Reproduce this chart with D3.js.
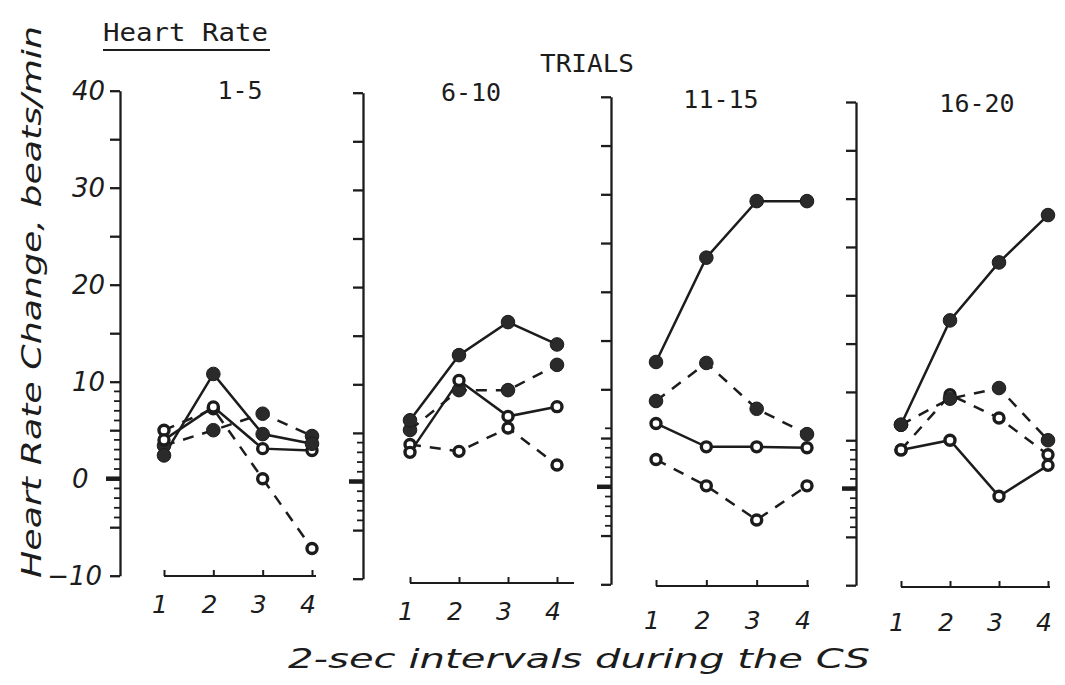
<!DOCTYPE html>
<html>
<head>
<meta charset="utf-8">
<script src="https://cdn.jsdelivr.net/npm/d3@7"></script>
<style>
  html, body { margin: 0; padding: 0; background: #ffffff; }
  svg { display: block; }
</style>
</head>
<body>
<svg id="chart" width="1065" height="685"></svg>
<script>
// ---------------- DATA ----------------
const intervals = [1, 2, 3, 4];
const trialBlocks = ["1-5", "6-10", "11-15", "16-20"];
const yTickLabels = [40, 30, 20, 10, 0, -10];

// one row per trial block, one value per 2-sec interval (beats/min)
const filledSolid  = [[2.4, 10.8, 4.6, 3.6], [6.3, 13.0, 16.4, 14.1], [12.8, 23.5, 29.3, 29.3], [6.6, 17.4, 23.4, 28.3]];
const filledDashed = [[3.4, 5.0, 6.7, 4.4],  [5.3, 9.4, 9.4, 12.0],   [8.8, 12.7, 8.0, 5.4],    [6.6, 9.3, 10.4, 5.0]];
const openSolid    = [[4.0, 7.4, 3.1, 2.9],  [3.0, 10.4, 6.7, 7.7],   [6.5, 4.1, 4.1, 4.0],     [4.0, 5.0, -0.8, 2.4]];
const openDashed   = [[5.0, 7.2, 0.0, -7.2], [3.8, 3.1, 5.5, 1.7],    [2.8, 0.1, -3.4, 0.1],    [4.0, 9.7, 7.3, 3.5]];

const seriesDefs = [
  { values: openDashed,   filled: false, dashed: true  },
  { values: filledDashed, filled: true,  dashed: true  },
  { values: openSolid,    filled: false, dashed: false },
  { values: filledSolid,  filled: true,  dashed: false }
];

// ---------------- LAYOUT (hand drawn panels differ slightly) ----------------
const layout = [
  { axisX: 120, yTop: 90.7, yBot: 575.7, xAxisY: 576, x0: 164, x1: 312, lineEnd: 316, labelY: 613, titleX: 240, titleY: 99,  minor: [-5, 10] },
  { axisX: 363, yTop: 92.7, yBot: 578.7, xAxisY: 583, x0: 410, x1: 557, lineEnd: 574, labelY: 620, titleX: 471, titleY: 101, minor: [-5, 5] },
  { axisX: 611, yTop: 96.8, yBot: 584.3, xAxisY: 586, x0: 656, x1: 807, lineEnd: 809, labelY: 629, titleX: 721, titleY: 108, minor: [-5, 6] },
  { axisX: 856, yTop: 102,  yBot: 585.2, xAxisY: 587, x0: 901, x1: 1048, lineEnd: 1050, labelY: 631, titleX: 977, titleY: 112, minor: [-5, 5] }
];

const INK = "#1c1c1c";
const MONO = "'DejaVu Sans Mono', 'Liberation Mono', monospace";
const HAND = "'DejaVu Sans', 'Noto Sans', sans-serif";

const svg = d3.select("#chart");

trialBlocks.forEach((block, p) => {
  const L = layout[p];
  const y = d3.scaleLinear().domain([-10, 40]).range([L.yBot, L.yTop]);
  const x = d3.scaleLinear().domain([1, 4]).range([L.x0, L.x1]);
  const g = svg.append("g");

  // y axis: major ticks every 5
  const yAxisMajor = d3.axisLeft(y)
    .tickValues(d3.range(-10, 41, 5))
    .tickSize(10).tickSizeOuter(0).tickFormat("");
  const ga = g.append("g").attr("transform", `translate(${L.axisX},0)`).call(yAxisMajor);
  ga.selectAll("path, line").attr("stroke", INK).attr("stroke-width", 2.3);

  // minor ticks every 1 around zero
  const minorVals = d3.range(L.minor[0], L.minor[1] + 1).filter(v => Math.abs(v % 5) > 0);
  g.append("g").selectAll("line").data(minorVals).enter().append("line")
    .attr("x1", L.axisX - 6).attr("x2", L.axisX)
    .attr("y1", d => y(d)).attr("y2", d => y(d))
    .attr("stroke", INK).attr("stroke-width", 1.8);

  // heavy zero tick
  g.append("line")
    .attr("x1", L.axisX - 14).attr("x2", L.axisX)
    .attr("y1", y(0)).attr("y2", y(0))
    .attr("stroke", INK).attr("stroke-width", 4.5);

  // y tick labels only on first panel
  if (p === 0) {
    g.selectAll("text.ylab").data(yTickLabels).enter().append("text")
      .attr("class", "ylab")
      .attr("x", d => d < 0 ? 102 : 72)
      .attr("y", d => y(d) + 9)
      .attr("text-anchor", d => d < 0 ? "end" : "start")
      .attr("font-family", HAND).attr("font-style", "italic")
      .attr("font-size", 26).attr("fill", INK)
      .text(d => d < 0 ? "\u2212" + Math.abs(d) : d);
  }

  // x axis: ticks point upward
  const gx = g.append("g").attr("transform", `translate(0,${L.xAxisY})`)
    .call(d3.axisBottom(x).tickValues(intervals).tickSize(-6).tickSizeOuter(0).tickFormat(""));
  gx.select(".domain").remove();
  gx.selectAll("line").attr("stroke", INK).attr("stroke-width", 2);
  g.append("line")
    .attr("x1", L.x0).attr("x2", L.lineEnd)
    .attr("y1", L.xAxisY).attr("y2", L.xAxisY)
    .attr("stroke", INK).attr("stroke-width", 2.2);

  // x tick labels
  g.selectAll("text.xlab").data(intervals).enter().append("text")
    .attr("class", "xlab")
    .attr("x", d => x(d) - 4)
    .attr("y", L.labelY)
    .attr("text-anchor", "middle")
    .attr("font-family", HAND).attr("font-style", "italic")
    .attr("font-size", 25).attr("fill", INK)
    .text(d => d);

  // panel title
  g.append("text")
    .attr("x", L.titleX).attr("y", L.titleY)
    .attr("text-anchor", "middle")
    .attr("font-family", MONO).attr("font-size", 25).attr("fill", INK)
    .text(block);

  // lines
  const line = d3.line().x((d, i) => x(intervals[i])).y(d => y(d));
  seriesDefs.forEach(s => {
    g.append("path")
      .datum(s.values[p])
      .attr("d", line)
      .attr("fill", "none")
      .attr("stroke", INK)
      .attr("stroke-width", 2.5)
      .attr("stroke-dasharray", s.dashed ? "11,9" : null);
  });
  // markers
  seriesDefs.forEach(s => {
    g.selectAll(null).data(s.values[p]).enter().append("circle")
      .attr("cx", (d, i) => x(intervals[i]))
      .attr("cy", d => y(d))
      .attr("r", s.filled ? 6.8 : 5.0)
      .attr("fill", s.filled ? "#2a2a2a" : "#ffffff")
      .attr("stroke", INK)
      .attr("stroke-width", s.filled ? 1 : 3.4);
  });
});

// heading
svg.append("text")
  .attr("x", 103).attr("y", 41)
  .attr("font-family", MONO).attr("font-size", 24).attr("fill", INK)
  .attr("textLength", 165).attr("lengthAdjust", "spacingAndGlyphs")
  .text("Heart Rate");
svg.append("line")
  .attr("x1", 103).attr("x2", 270).attr("y1", 50).attr("y2", 50)
  .attr("stroke", INK).attr("stroke-width", 2);

svg.append("text")
  .attr("x", 587).attr("y", 72)
  .attr("text-anchor", "middle")
  .attr("font-family", MONO).attr("font-size", 24).attr("fill", INK)
  .attr("textLength", 94).attr("lengthAdjust", "spacingAndGlyphs")
  .text("TRIALS");

// y axis title
svg.append("text")
  .attr("transform", "translate(41,302) rotate(-90)")
  .attr("text-anchor", "middle")
  .attr("font-family", HAND).attr("font-style", "italic")
  .attr("font-size", 27).attr("fill", INK)
  .attr("textLength", 552).attr("lengthAdjust", "spacingAndGlyphs")
  .text("Heart Rate Change,  beats/min");

// x axis title
svg.append("text")
  .attr("x", 579).attr("y", 668)
  .attr("text-anchor", "middle")
  .attr("font-family", HAND).attr("font-style", "italic")
  .attr("font-size", 27).attr("fill", INK)
  .attr("textLength", 582).attr("lengthAdjust", "spacingAndGlyphs")
  .text("2-sec intervals during the CS");
</script>
</body>
</html>
